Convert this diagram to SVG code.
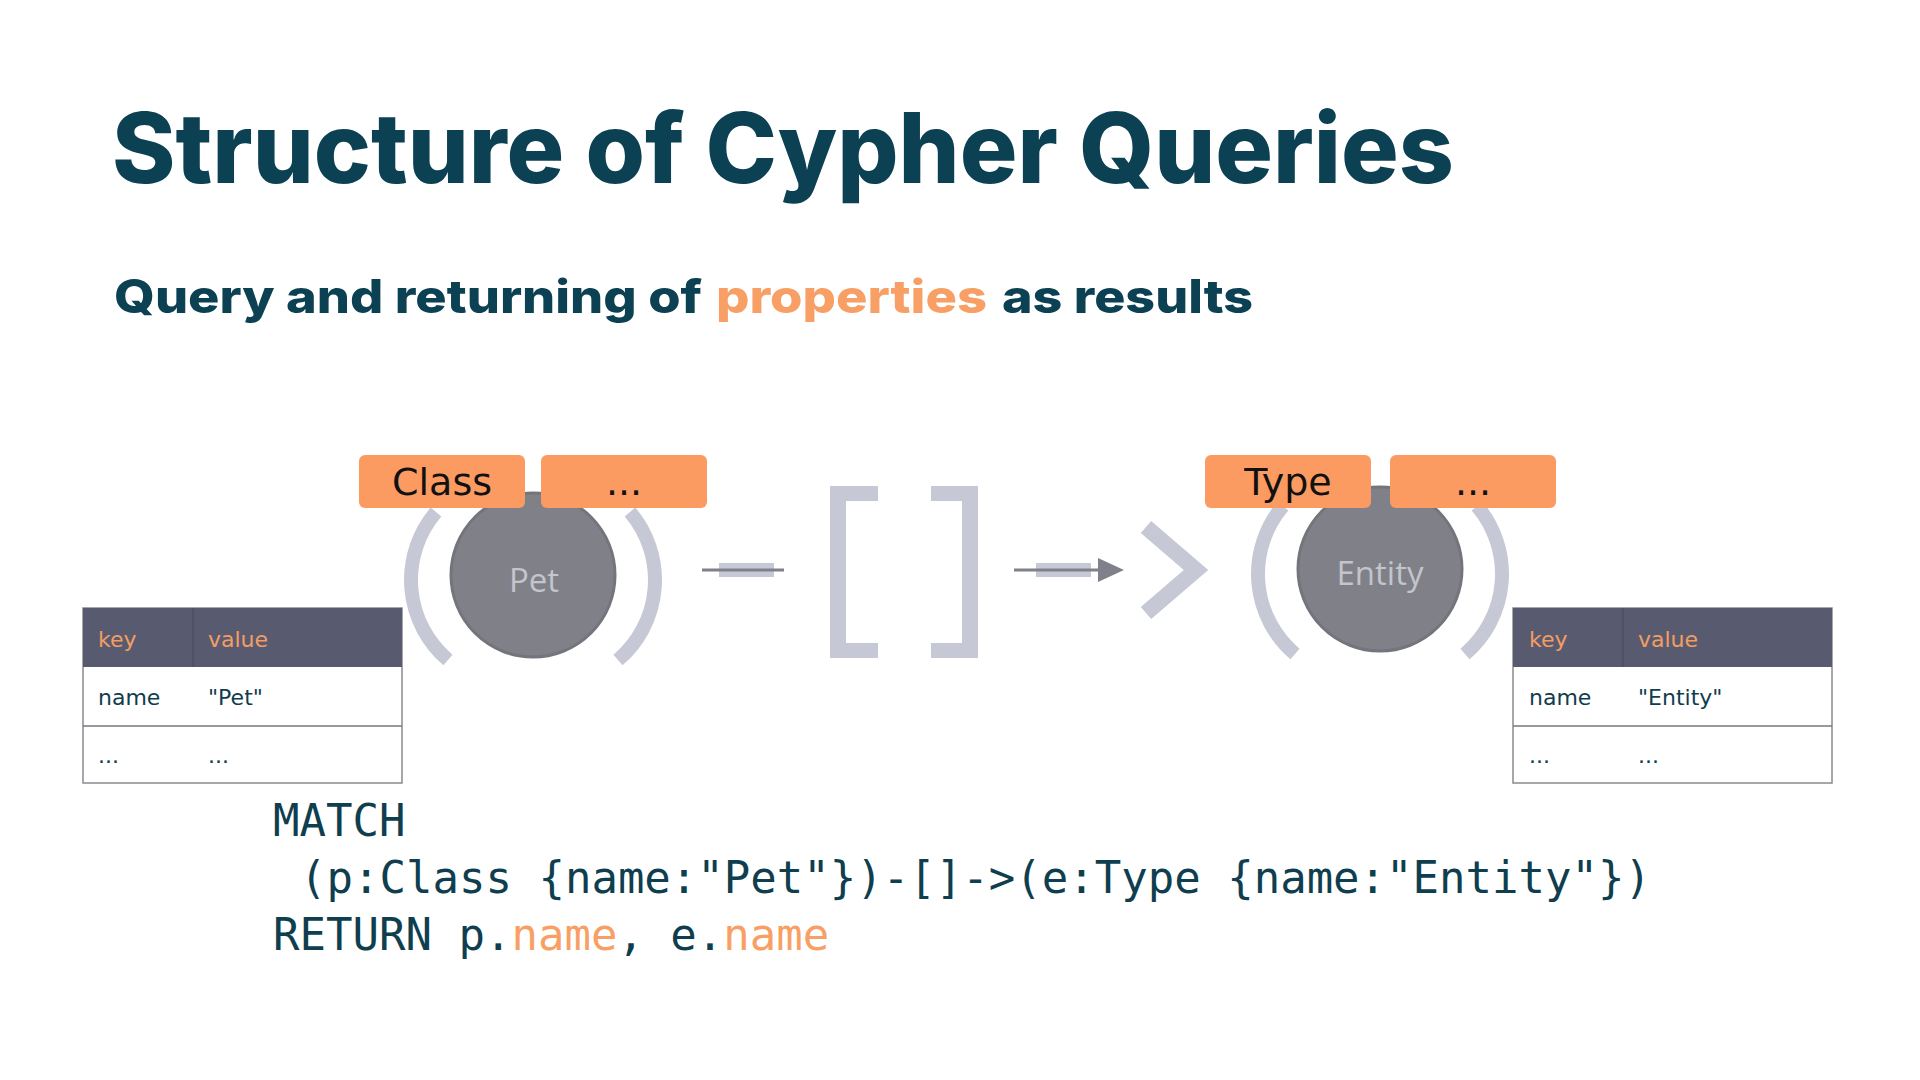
<svg xmlns="http://www.w3.org/2000/svg" width="1920" height="1080" viewBox="0 0 1920 1080">
<style>
.title{font-family:Inter,Lato,"Liberation Sans",sans-serif;font-weight:800;fill:#0c4053}
.orange{fill:#f89f66}
.paren{fill:none;stroke:#c7c8d5;stroke-width:14}
.br{fill:#c7c8d5}
.node{fill:#808088;stroke:#74747d;stroke-width:3}
.ntext{font-family:"Open Sans","Liberation Sans",sans-serif;font-size:33px;fill:#c4c4cc;text-anchor:middle}
.lbl{fill:#fc9b61}
.ltext{font-family:"DejaVu Sans","Liberation Sans",sans-serif;font-size:38px;fill:#111;text-anchor:middle}
.thead{fill:#585b70}
.tbody{fill:#fff;stroke:#8a8a90;stroke-width:1.5}
.tline{stroke:#77777d;stroke-width:1.5}
.tdiv{stroke:#4c4f62;stroke-width:1.5}
.tk{font-family:"DejaVu Sans","Liberation Sans",sans-serif;font-size:22px;fill:#f39c63}
.tv{font-family:"DejaVu Sans","Liberation Sans",sans-serif;font-size:22px;fill:#0f3d4d}
.code{font-family:"DejaVu Sans Mono","Liberation Mono",monospace;font-size:44px;fill:#0f3e4f}
.wire{stroke:#80808a;stroke-width:3;fill:none}
.band{fill:#c7c8d5}
</style>
<defs>
<marker id="ah" viewBox="0 0 26 24" refX="0" refY="12" markerWidth="26" markerHeight="24" markerUnits="userSpaceOnUse" orient="auto">
<path d="M0,0 L26,12 L0,24 Z" fill="#80808a"/>
</marker>
</defs>
<rect width="1920" height="1080" fill="#ffffff"/>

<g id="title">
<text class="title" x="112" y="183" font-size="98" textLength="1342" lengthAdjust="spacingAndGlyphs">Structure of Cypher Queries</text>
</g>
<g id="subtitle">
<text class="title" y="313" font-size="46"><tspan x="114" textLength="588" lengthAdjust="spacingAndGlyphs">Query and returning of</tspan><tspan class="orange" x="716" textLength="271" lengthAdjust="spacingAndGlyphs">properties</tspan><tspan x="1002" textLength="251" lengthAdjust="spacingAndGlyphs">as results</tspan></text>
</g>

<g id="node-pet">
<path class="paren" d="M436,512 A105,105 0 0 0 448,660"/>
<path class="paren" d="M630,512 A105,105 0 0 1 618,660"/>
<circle class="node" cx="533" cy="575" r="82"/>
<text class="ntext" x="534" y="592">Pet</text>
<rect class="lbl" x="359" y="455" width="166" height="53" rx="6"/>
<text class="ltext" x="442" y="495">Class</text>
<rect class="lbl" x="541" y="455" width="166" height="53" rx="6"/>
<text class="ltext" x="624" y="495">...</text>
</g>

<g id="relationship">
<path class="br" d="M830,486 H878 V501 H846 V643 H878 V658 H830 Z"/>
<path class="br" d="M978,486 H931 V501 H962 V643 H931 V658 H978 Z"/>
<path d="M1146,527 L1196,570 L1146,613" fill="none" stroke="#c7c8d5" stroke-width="16"/>
</g>

<g id="node-entity">
<path class="paren" d="M1283,506 A105,105 0 0 0 1295,654"/>
<path class="paren" d="M1477,506 A105,105 0 0 1 1465,654"/>
<circle class="node" cx="1380" cy="569" r="82"/>
<text class="ntext" x="1380" y="585">Entity</text>
<rect class="lbl" x="1205" y="455" width="166" height="53" rx="6"/>
<text class="ltext" x="1288" y="495">Type</text>
<rect class="lbl" x="1390" y="455" width="166" height="53" rx="6"/>
<text class="ltext" x="1473" y="495">...</text>
</g>

<g id="connectors">
<rect class="band" x="719" y="563" width="55" height="14"/>
<line class="wire" x1="702" y1="570" x2="784" y2="570"/>
<rect class="band" x="1036" y="563" width="55" height="14"/>
<line class="wire" x1="1014" y1="570" x2="1098" y2="570" marker-end="url(#ah)"/>
</g>

<g id="table-pet">
<rect class="tbody" x="83" y="608" width="319" height="175"/>
<rect class="thead" x="83" y="608" width="319" height="59"/>
<line class="tdiv" x1="193" y1="608" x2="193" y2="667"/>
<line class="tline" x1="83" y1="726" x2="402" y2="726"/>
<text class="tk" x="98" y="647">key</text>
<text class="tk" x="208" y="647">value</text>
<text class="tv" x="98" y="705">name</text>
<text class="tv" x="208" y="705">"Pet"</text>
<text class="tv" x="98" y="763">...</text>
<text class="tv" x="208" y="763">...</text>
</g>

<g id="table-entity">
<rect class="tbody" x="1513" y="608" width="319" height="175"/>
<rect class="thead" x="1513" y="608" width="319" height="59"/>
<line class="tdiv" x1="1623" y1="608" x2="1623" y2="667"/>
<line class="tline" x1="1513" y1="726" x2="1832" y2="726"/>
<text class="tk" x="1529" y="647">key</text>
<text class="tk" x="1638" y="647">value</text>
<text class="tv" x="1529" y="705">name</text>
<text class="tv" x="1638" y="705">"Entity"</text>
<text class="tv" x="1529" y="763">...</text>
<text class="tv" x="1638" y="763">...</text>
</g>

<g id="code">
<text class="code" x="273" y="836">MATCH</text>
<text class="code" x="300" y="893">(p:Class {name:"Pet"})-[]-&gt;(e:Type {name:"Entity"})</text>
<text class="code" x="273" y="950">RETURN p.<tspan class="orange">name</tspan>, e.<tspan class="orange">name</tspan></text>
</g>
</svg>
